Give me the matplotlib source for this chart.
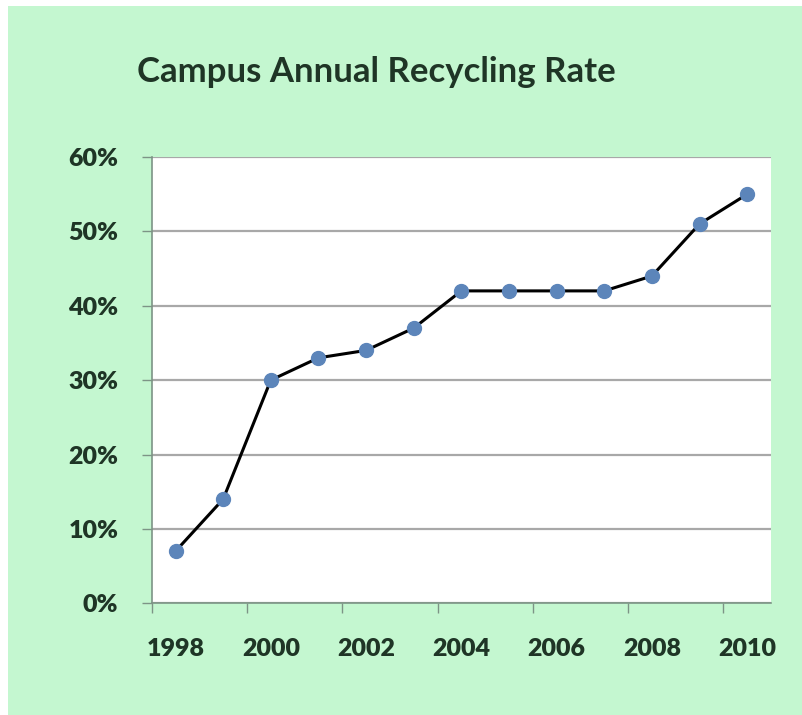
import matplotlib
matplotlib.use('Agg')
import matplotlib.pyplot as plt
from matplotlib.patches import Rectangle
import numpy as np

# data
years = ['1998', '1999', '2000', '2001', '2002', '2003', '2004',
         '2005', '2006', '2007', '2008', '2009', '2010']
rate = [0.07, 0.14, 0.30, 0.33, 0.34, 0.37, 0.42,
        0.42, 0.42, 0.42, 0.44, 0.51, 0.55]
yticks = [0, 0.1, 0.2, 0.3, 0.4, 0.5, 0.6]

green = '#c4f7d0'
txt = '#1f3526'
plt.rcParams['font.family'] = ['Lato', 'DejaVu Sans']

fig = plt.figure(figsize=(8.02, 7.15), dpi=100, facecolor='white')
# green chart area, thin white strip on left and top
fig.patches.append(Rectangle((8 / 802, 0), 1, 1 - 6 / 715, transform=fig.transFigure,
                             facecolor=green, edgecolor='none', zorder=-5))

ax = fig.add_axes([151.7 / 802, (715 - 603.3) / 715, (771 - 151.7) / 802, (603.3 - 157) / 715])
ax.set_zorder(2)
ax.set_facecolor('white')

x = np.arange(len(years))
ax.plot(x, rate, color='black', lw=2.2, marker='o', markersize=10,
        markerfacecolor='#5c85ba', markeredgecolor='#5c85ba', zorder=3)

ax.set_xlim(-0.5, len(years) - 0.5)
ax.set_ylim(0, 0.6)

# y axis
ax.set_yticks(yticks)
ax.set_yticklabels(['%d%%' % round(v * 100) for v in yticks])
ax.yaxis.grid(True, color='#a8a8a8', lw=1.6)
ax.set_axisbelow(True)

# x axis: ticks between categories every 2, labels every 2
ax.set_xticks(np.arange(-0.5, len(years) - 1, 2))
ax.set_xticklabels([])
ax.set_xticks(x[::2], minor=True)
ax.set_xticklabels(years[::2], minor=True)
ax.tick_params(axis='x', which='major', length=7, width=1, color='#7d9486', direction='out')
ax.tick_params(axis='x', which='minor', length=0, pad=25, labelsize=18, labelcolor=txt)
ax.tick_params(axis='y', length=7, width=1, color='#7d9486', pad=17, labelsize=18, labelcolor=txt)
for lab in ax.get_xticklabels(minor=True) + ax.get_yticklabels():
    lab.set_fontweight('heavy')

for s in ['top', 'right']:
    ax.spines[s].set_visible(False)
for s in ['left', 'bottom']:
    ax.spines[s].set_color('#7d9486')
    ax.spines[s].set_linewidth(1.2)

fig.text(137 / 802, 1 - 72 / 715, 'Campus Annual Recycling Rate', ha='left', va='center',
         fontsize=25, fontweight='bold', color=txt)

plt.savefig('out.png', dpi=100, facecolor=fig.get_facecolor())
